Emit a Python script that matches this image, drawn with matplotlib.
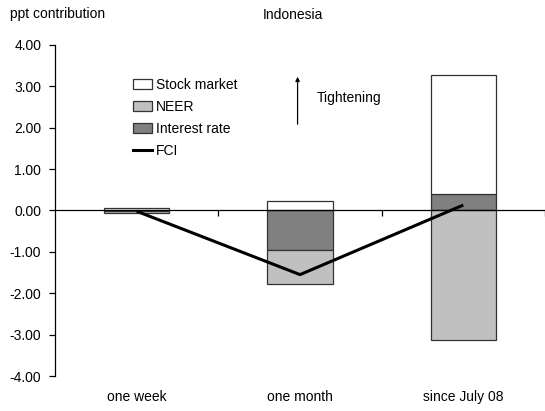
import numpy as np
import matplotlib
matplotlib.use("Agg")
import matplotlib.pyplot as plt
from matplotlib.patches import Patch
from matplotlib.lines import Line2D
from matplotlib.ticker import FormatStrFormatter, FixedLocator
import matplotlib.transforms as mtransforms

plt.rcParams['font.family'] = ['Liberation Sans', 'DejaVu Sans']
plt.rcParams['font.size'] = 10

categories = ["one week", "one month", "since July 08"]
stock_market = [0.05, 0.23, 2.89]
neer = [-0.03, -0.81, -3.14]
interest_rate = [-0.02, -0.96, 0.39]
fci = [-0.02, -1.55, 0.13]
y_ticks = [-4, -3, -2, -1, 0, 1, 2, 3, 4]

fig = plt.figure(figsize=(5.45, 4.11), dpi=100)
ax = fig.add_axes([0.101, 0.085, 0.899, 0.806])

x = np.arange(len(categories))
width = 0.4

# stack positives upward and negatives downward, in drawing order
series = [
    ("Interest rate", interest_rate, "#808080"),
    ("NEER", neer, "#c0c0c0"),
    ("Stock market", stock_market, "#ffffff"),
]
pos_base = np.zeros(len(categories))
neg_base = np.zeros(len(categories))
for name, vals, color in series:
    vals = np.asarray(vals, dtype=float)
    bottoms = np.where(vals >= 0, pos_base, neg_base)
    ax.bar(x, vals, width, bottom=bottoms, color=color, edgecolor="#333333",
           linewidth=0.9, zorder=2)
    pos_base += np.where(vals >= 0, vals, 0)
    neg_base += np.where(vals < 0, vals, 0)

ax.plot(x, fci, color="black", linewidth=2.2, zorder=4, solid_capstyle="butt")

ax.set_xlim(-0.5, 2.5)
ax.set_ylim(-4, 4)

ax.spines["top"].set_visible(False)
ax.spines["right"].set_visible(False)
ax.spines["bottom"].set_position(("data", 0))
ax.spines["bottom"].set_linewidth(0.9)
ax.spines["left"].set_linewidth(0.9)
ax.spines["bottom"].set_zorder(3)

ax.yaxis.set_major_locator(FixedLocator(y_ticks))
ax.yaxis.set_major_formatter(FormatStrFormatter("%.2f"))
ax.tick_params(axis="y", direction="out", length=4, width=0.9, pad=6, labelsize=10)
ax.xaxis.set_major_locator(FixedLocator([0.5, 1.5, 2.5]))
ax.tick_params(axis="x", direction="out", length=4, width=0.9, labelbottom=False)

trans = mtransforms.blended_transform_factory(ax.transData, ax.transAxes)
for xi, lab in zip(x, categories):
    ax.text(xi, -0.063, lab, transform=trans, ha="center", va="center", fontsize=10)

fig.text(0.018, 0.965, "ppt contribution", ha="left", va="center", fontsize=10)
fig.text(0.538, 0.963, "Indonesia", ha="center", va="center", fontsize=10)

handles = [
    Patch(facecolor="#ffffff", edgecolor="#333333", linewidth=0.9, label="Stock market"),
    Patch(facecolor="#c0c0c0", edgecolor="#333333", linewidth=0.9, label="NEER"),
    Patch(facecolor="#808080", edgecolor="#333333", linewidth=0.9, label="Interest rate"),
    Line2D([0], [0], color="black", linewidth=2.2, label="FCI"),
]
ax.legend(handles=handles, loc="upper left", bbox_to_anchor=(0.147, 0.917),
          frameon=False, fontsize=10, handlelength=1.4, handleheight=0.8,
          handletextpad=0.25, labelspacing=0.58, borderaxespad=0)

ax.annotate("", xy=(0.495, 0.912), xytext=(0.495, 0.752), xycoords="axes fraction",
            arrowprops=dict(arrowstyle="-|>", color="black", lw=0.9,
                            mutation_scale=6))
ax.text(0.535, 0.84, "Tightening", transform=ax.transAxes, ha="left", va="center",
        fontsize=10)

fig.savefig("out.png", dpi=100)
